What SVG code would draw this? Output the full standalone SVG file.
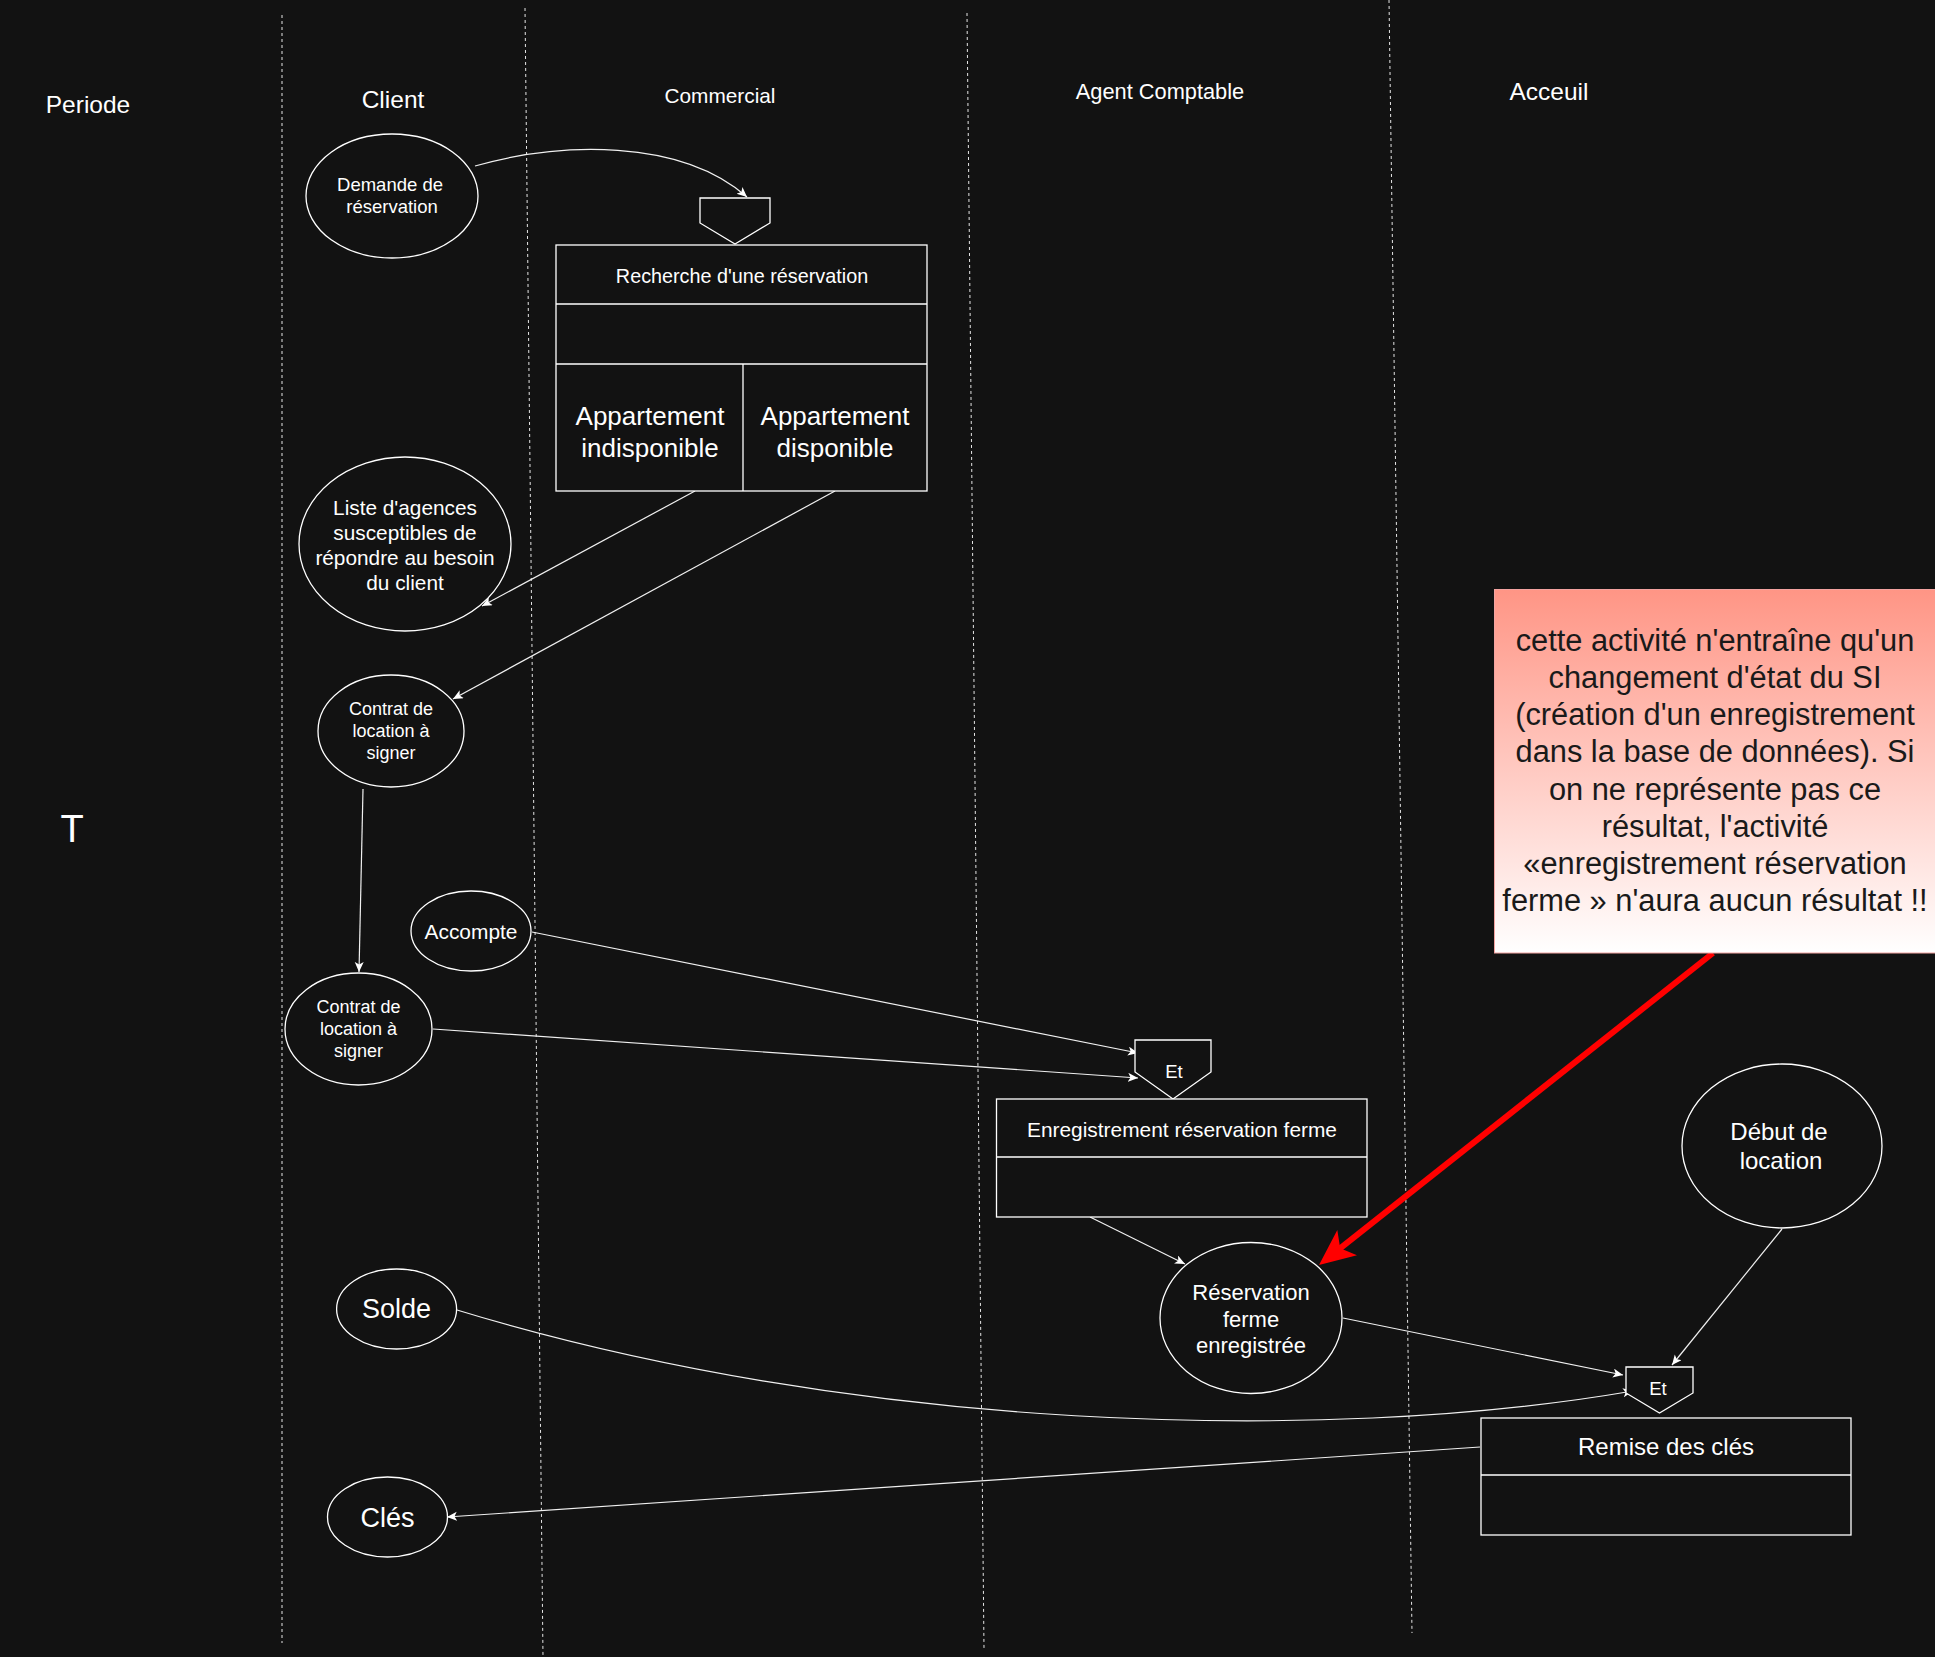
<svg xmlns="http://www.w3.org/2000/svg" width="1935" height="1657" viewBox="0 0 1935 1657">
<defs>
<marker id="arr" markerUnits="userSpaceOnUse" markerWidth="12" markerHeight="10" refX="10" refY="4.5" orient="auto">
<path d="M0,0 L10,4.5 L0,9 L2.5,4.5 z" fill="#ffffff"/>
</marker>
<marker id="redarr" markerUnits="userSpaceOnUse" markerWidth="40" markerHeight="36" refX="16" refY="16" orient="auto">
<path d="M0,0 L36,16 L0,32 L9,16 z" fill="#ff0000"/>
</marker>
<linearGradient id="note" x1="0" y1="0" x2="0" y2="1">
<stop offset="0" stop-color="#ff9585"/>
<stop offset="1" stop-color="#ffffff"/>
</linearGradient>
</defs>
<style>
text{font-family:"Liberation Sans",Arial,Helvetica,sans-serif;fill:#ffffff;text-anchor:middle}
.lane{stroke:#e6e6e6;stroke-width:1;stroke-dasharray:3 3;fill:none}
.shape{fill:#121212;stroke:#ffffff;stroke-width:1.3}
.edge{fill:none;stroke:#f0f0f0;stroke-width:1.2;marker-end:url(#arr)}
.note{fill:#1a1a1a;font-size:30.8px}
</style>
<rect x="0" y="0" width="1935" height="1657" fill="#121212"/>
<g id="lanes">
<line class="lane" x1="282" y1="15" x2="282" y2="1643"/>
<line class="lane" x1="525" y1="8" x2="543" y2="1657"/>
<line class="lane" x1="967" y1="13" x2="984" y2="1648"/>
<line class="lane" x1="1389" y1="0" x2="1412" y2="1633"/>
</g>
<g id="headers">
<text x="88" y="113" font-size="24.5">Periode</text>
<text x="393" y="108" font-size="24.5">Client</text>
<text x="720" y="103" font-size="20.8">Commercial</text>
<text x="1160" y="99" font-size="21.8">Agent Comptable</text>
<text x="1549" y="100" font-size="24.5">Acceuil</text>
<text x="72" y="842" font-size="38">T</text>
</g>
<g id="connectors">
<path class="edge" d="M475,166 C560,142 680,138 747,197"/>
<line class="edge" x1="695" y1="491" x2="482" y2="606"/>
<line class="edge" x1="835" y1="491" x2="453" y2="699"/>
<line class="edge" x1="363" y1="789" x2="359" y2="972"/>
<line class="edge" x1="532" y1="932" x2="1138" y2="1053"/>
<line class="edge" x1="433" y1="1029" x2="1138" y2="1078"/>
<line class="edge" x1="1090" y1="1217" x2="1185" y2="1264"/>
<line class="edge" x1="1343" y1="1318" x2="1623" y2="1375"/>
<line class="edge" x1="1782" y1="1229" x2="1672" y2="1365"/>
<path class="edge" d="M457,1310 C850,1430 1320,1445 1633,1391"/>
<line class="edge" x1="1480" y1="1447" x2="447" y2="1517"/>
<line x1="1713" y1="953" x2="1334.7" y2="1252.6" stroke="#ff0000" stroke-width="6" marker-end="url(#redarr)"/>
</g>
<g id="merge1">
<polygon class="shape" points="700,198 770,198 770,223 735,244 700,223"/>
</g>
<g id="recherche">
<rect class="shape" x="556" y="245" width="371" height="246"/>
<line x1="556" y1="304" x2="927" y2="304" stroke="#ffffff" stroke-width="1.3"/>
<line x1="556" y1="364" x2="927" y2="364" stroke="#ffffff" stroke-width="1.3"/>
<line x1="743" y1="364" x2="743" y2="491" stroke="#ffffff" stroke-width="1.3"/>
<text x="742" y="283" font-size="19.8">Recherche d'une réservation</text>
<text x="650" y="425" font-size="26">Appartement</text>
<text x="650" y="457" font-size="26">indisponible</text>
<text x="835" y="425" font-size="26">Appartement</text>
<text x="835" y="457" font-size="26">disponible</text>
</g>
<g id="demande">
<ellipse class="shape" cx="392" cy="196" rx="86" ry="62"/>
<text x="390" y="191" font-size="18.5">Demande de</text>
<text x="392" y="213" font-size="18.5">réservation</text>
</g>
<g id="liste">
<ellipse class="shape" cx="405" cy="544" rx="106" ry="87"/>
<text x="405" y="515" font-size="20.8">Liste d'agences</text>
<text x="405" y="540" font-size="20.8">susceptibles de</text>
<text x="405" y="565" font-size="20.8">répondre au besoin</text>
<text x="405" y="590" font-size="20.8">du client</text>
</g>
<g id="contrat1">
<ellipse class="shape" cx="391" cy="731" rx="73" ry="56"/>
<text x="391" y="715" font-size="18">Contrat de</text>
<text x="391" y="737" font-size="18">location à</text>
<text x="391" y="759" font-size="18">signer</text>
</g>
<g id="accompte">
<ellipse class="shape" cx="471" cy="931" rx="60" ry="40"/>
<text x="471" y="939" font-size="20.9">Accompte</text>
</g>
<g id="contrat2">
<ellipse class="shape" cx="358.5" cy="1029" rx="73.5" ry="56"/>
<text x="358.5" y="1013" font-size="18">Contrat de</text>
<text x="358.5" y="1035" font-size="18">location à</text>
<text x="358.5" y="1057" font-size="18">signer</text>
</g>
<g id="merge2">
<polygon class="shape" points="1135,1040 1211,1040 1211,1072 1173,1099 1135,1072"/>
<text x="1174" y="1078" font-size="18.5">Et</text>
</g>
<g id="enregistrement">
<rect class="shape" x="996.5" y="1099" width="370.5" height="118"/>
<line x1="996.5" y1="1157" x2="1367" y2="1157" stroke="#ffffff" stroke-width="1.3"/>
<text x="1182" y="1137" font-size="20.9">Enregistrement réservation ferme</text>
</g>
<g id="note">
<rect x="1494.5" y="589.5" width="441" height="363.5" fill="url(#note)" stroke="#f3a3a0" stroke-width="1"/>
<text class="note" x="1715" y="651">cette activité n'entraîne qu'un</text>
<text class="note" x="1715" y="688">changement d'état du SI</text>
<text class="note" x="1715" y="725">(création d'un enregistrement</text>
<text class="note" x="1715" y="762">dans la base de données). Si</text>
<text class="note" x="1715" y="800">on ne représente pas ce</text>
<text class="note" x="1715" y="837">résultat, l'activité</text>
<text class="note" x="1715" y="874">«enregistrement réservation</text>
<text class="note" x="1715" y="911">ferme » n'aura aucun résultat !!</text>
</g>
<g id="debut">
<ellipse class="shape" cx="1782" cy="1146" rx="100" ry="82"/>
<text x="1779" y="1140" font-size="24">Début de</text>
<text x="1781" y="1169" font-size="24">location</text>
</g>
<g id="reservation">
<ellipse class="shape" cx="1251" cy="1318" rx="91" ry="75.5"/>
<text x="1251" y="1300" font-size="22">Réservation</text>
<text x="1251" y="1327" font-size="22">ferme</text>
<text x="1251" y="1353" font-size="22">enregistrée</text>
</g>
<g id="merge3">
<polygon class="shape" points="1626,1367 1693,1367 1693,1393 1659.5,1413 1626,1393"/>
<text x="1658" y="1395" font-size="18.5">Et</text>
</g>
<g id="remise">
<rect class="shape" x="1481" y="1418" width="370" height="117"/>
<line x1="1481" y1="1475" x2="1851" y2="1475" stroke="#ffffff" stroke-width="1.3"/>
<text x="1666" y="1455" font-size="24">Remise des clés</text>
</g>
<g id="solde">
<ellipse class="shape" cx="396.6" cy="1309" rx="60" ry="40"/>
<text x="396.6" y="1318" font-size="27">Solde</text>
</g>
<g id="cles">
<ellipse class="shape" cx="387.5" cy="1517" rx="60" ry="40"/>
<text x="387.5" y="1526.7" font-size="27">Clés</text>
</g>
</svg>
